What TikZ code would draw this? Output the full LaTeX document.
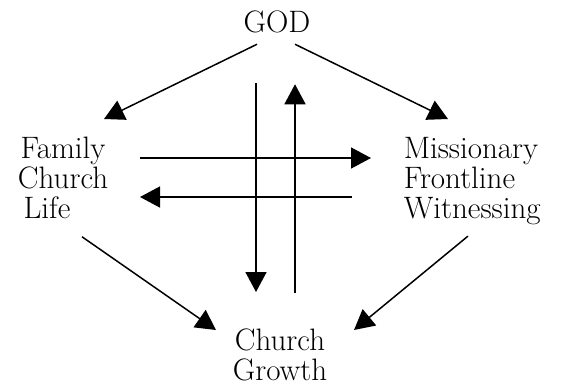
\documentclass[tikz,border=0pt]{standalone}
\usetikzlibrary{arrows.meta}
\begin{document}
\begin{tikzpicture}[x=0.5pt,y=-0.5pt,>={Triangle[length=10pt,width=10.5pt]},line width=0.75pt,
  lbl/.style={inner sep=0pt,font=\fontsize{15.5}{15}\selectfont}]
  \useasboundingbox (0,0) rectangle (561,386);
  % the four corners
  \node[lbl,anchor=base] (god) at (277,32) {GOD};
  \node[lbl,anchor=north,align=center] (family) at (63,136.5) {Family\\Church\\Life\hspace*{16pt}};
  \node[lbl,anchor=north west,align=left] (mission) at (403,136.5) {Missionary\\Frontline\\Witnessing};
  \node[lbl,anchor=north,align=center] (growth) at (280,328.5) {Church\\Growth};
  % ends of the crossing arrows
  \coordinate (rtail) at (140,158);
  \coordinate (rhead) at (371,158);
  \coordinate (ltail) at (352,197);
  \coordinate (lhead) at (140,197);
  \draw[->] ([xshift=-10pt,yshift=-5.5pt]god.south) -- ([xshift=20.5pt,yshift=8.75pt]family.north);
  \draw[->] ([xshift=9pt,yshift=-5.5pt]god.south) -- ([xshift=22.5pt,yshift=8.75pt]mission.north west);
  \draw[->] ([xshift=9.5pt,yshift=-8.5pt]family.south) -- ([xshift=-32pt,yshift=-0.75pt]growth.north);
  \draw[->] ([xshift=32.5pt,yshift=-5.3pt]mission.south west) -- ([xshift=37pt,yshift=-0.75pt]growth.north);
  \draw[->] (rtail) -- (rhead);
  \draw[->] (ltail) -- (lhead);
  \draw[->] ([xshift=-10.5pt,yshift=-25pt]god.south) -- ([xshift=-12pt,yshift=18.25pt]growth.north);
  \draw[->] ([xshift=7.5pt,yshift=17.75pt]growth.north) -- ([xshift=9pt,yshift=-25.5pt]god.south);
\end{tikzpicture}
\end{document}
